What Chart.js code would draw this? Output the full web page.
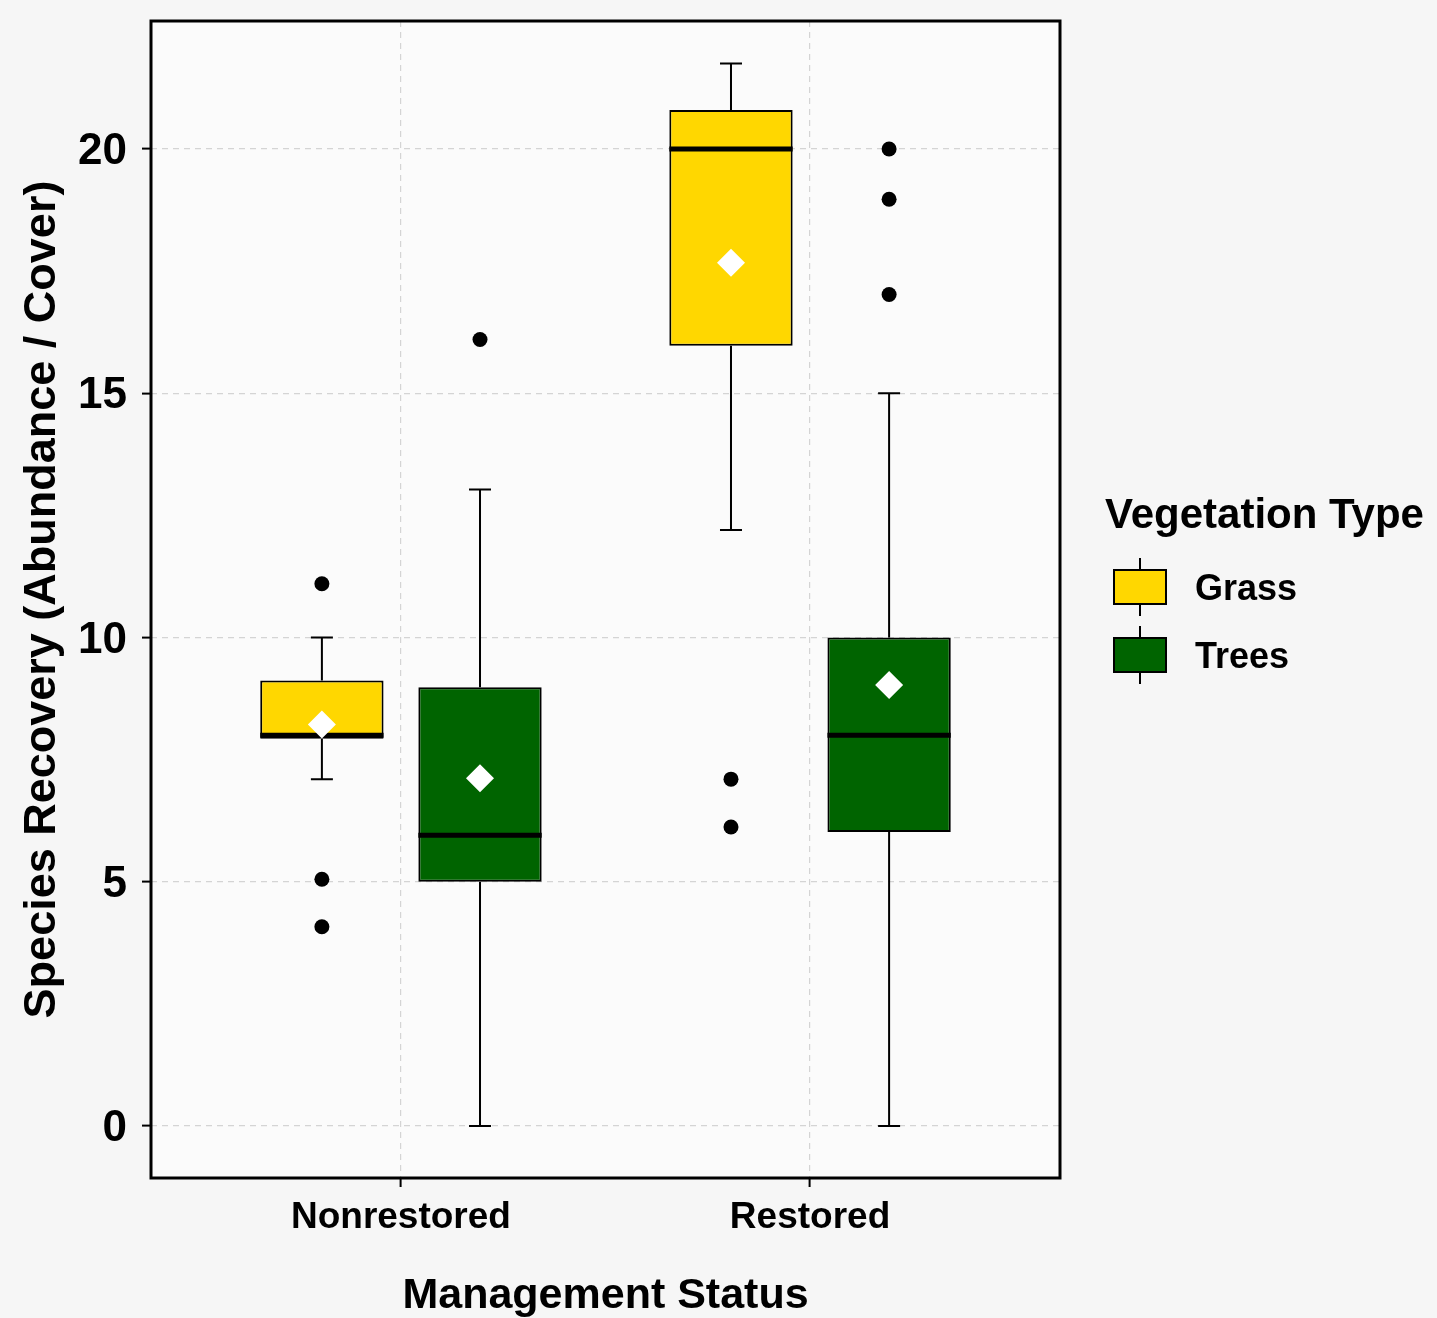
<!DOCTYPE html>
<html>
<head>
<meta charset="utf-8">
<title>Species Recovery by Management Status</title>
<script src="https://cdn.jsdelivr.net/npm/chart.js@4.4.1/dist/chart.umd.min.js"></script>
<style>
  html, body { margin: 0; padding: 0; background: #f6f6f6; }
  #wrap { width: 1437px; height: 1318px; }
</style>
</head>
<body>
<div id="wrap"><canvas id="boxChart" width="1437" height="1318"></canvas></div>
<script>
var categories = ['Nonrestored', 'Restored'];
var groups = ['Grass', 'Trees'];
var groupColors = ['#FFD700', '#006400'];

// box summaries, one entry per category
var grassMin = [7.1, 12.2];
var grassQ1 = [7.93, 15.97];
var grassMedian = [8.0, 20.0];
var grassQ3 = [9.12, 20.8];
var grassMax = [10.0, 21.75];
var grassMean = [8.22, 17.67];
var grassOutliers = [[11.1, 5.05, 4.08], [7.1, 6.12]];

var treesMin = [0, 0];
var treesQ1 = [5.0, 6.02];
var treesMedian = [5.95, 8.0];
var treesQ3 = [8.98, 10.0];
var treesMax = [13.03, 15.0];
var treesMean = [7.12, 9.03];
var treesOutliers = [[16.1], [20.0, 18.97, 17.02]];

var yTicks = [0, 5, 10, 15, 20];

var stats = [
  { min: grassMin, q1: grassQ1, med: grassMedian, q3: grassQ3, max: grassMax, mean: grassMean, out: grassOutliers },
  { min: treesMin, q1: treesQ1, med: treesMedian, q3: treesQ3, max: treesMax, mean: treesMean, out: treesOutliers }
];

var FONT = '"Liberation Sans", Arial, sans-serif';

function boxData(s) {
  return categories.map(function (c, i) { return { x: i, y: [s.q1[i], s.q3[i]] }; });
}

function noEdgePadding(s) {
  s.paddingTop = 0; s.paddingBottom = 0; s.paddingLeft = 0; s.paddingRight = 0;
}

// panel background + frame
var panelPlugin = {
  id: 'panel',
  beforeDraw: function (chart) {
    var a = chart.chartArea, ctx = chart.ctx;
    ctx.save();
    ctx.fillStyle = '#fbfbfb';
    ctx.fillRect(a.left, a.top, a.right - a.left, a.bottom - a.top);
    ctx.restore();
  },
  afterDraw: function (chart) {
    var a = chart.chartArea, ctx = chart.ctx;
    ctx.save();
    ctx.strokeStyle = '#000';
    ctx.lineWidth = 3;
    ctx.strokeRect(a.left, a.top, a.right - a.left, a.bottom - a.top);
    ctx.restore();
  }
};

// whiskers behind the boxes, median / mean / outliers on top
var boxPlugin = {
  id: 'boxExtras',
  beforeDatasetsDraw: function (chart) {
    var ctx = chart.ctx, y = chart.scales.y;
    ctx.save();
    ctx.strokeStyle = '#000';
    ctx.lineWidth = 2;
    stats.forEach(function (s, di) {
      chart.getDatasetMeta(di).data.forEach(function (el, j) {
        var x = el.x, cap = 11;
        ctx.beginPath();
        ctx.moveTo(x, y.getPixelForValue(s.q3[j]));
        ctx.lineTo(x, y.getPixelForValue(s.max[j]));
        ctx.moveTo(x - cap, y.getPixelForValue(s.max[j]));
        ctx.lineTo(x + cap, y.getPixelForValue(s.max[j]));
        ctx.moveTo(x, y.getPixelForValue(s.q1[j]));
        ctx.lineTo(x, y.getPixelForValue(s.min[j]));
        ctx.moveTo(x - cap, y.getPixelForValue(s.min[j]));
        ctx.lineTo(x + cap, y.getPixelForValue(s.min[j]));
        ctx.stroke();
      });
    });
    ctx.restore();
  },
  afterDatasetsDraw: function (chart) {
    var ctx = chart.ctx, y = chart.scales.y;
    ctx.save();
    stats.forEach(function (s, di) {
      chart.getDatasetMeta(di).data.forEach(function (el, j) {
        var x = el.x, hw = el.width / 2;
        var my = y.getPixelForValue(s.med[j]);
        ctx.strokeStyle = '#000';
        ctx.lineWidth = 5;
        ctx.beginPath();
        ctx.moveTo(x - hw, my);
        ctx.lineTo(x + hw, my);
        ctx.stroke();

        var ay = y.getPixelForValue(s.mean[j]), r = 14;
        ctx.fillStyle = '#fff';
        ctx.beginPath();
        ctx.moveTo(x, ay - r);
        ctx.lineTo(x + r, ay);
        ctx.lineTo(x, ay + r);
        ctx.lineTo(x - r, ay);
        ctx.closePath();
        ctx.fill();

        ctx.fillStyle = '#000';
        s.out[j].forEach(function (v) {
          ctx.beginPath();
          ctx.arc(x, y.getPixelForValue(v), 7.5, 0, Math.PI * 2);
          ctx.fill();
        });
      });
    });
    ctx.restore();
  }
};

var legendPlugin = {
  id: 'boxLegend',
  afterDraw: function (chart) {
    var ctx = chart.ctx, a = chart.chartArea;
    var left = a.right + 45;
    ctx.save();
    ctx.fillStyle = '#000';
    ctx.textBaseline = 'middle';
    ctx.textAlign = 'left';
    ctx.font = 'bold 42px ' + FONT;
    ctx.fillText('Vegetation Type', left, 516);
    groups.forEach(function (g, i) {
      var top = 570 + 68 * i, kx = left + 9, kw = 52, kh = 34, cx = kx + kw / 2;
      ctx.strokeStyle = '#000';
      ctx.lineWidth = 2;
      ctx.beginPath();
      ctx.moveTo(cx, top - 12);
      ctx.lineTo(cx, top + kh + 12);
      ctx.stroke();
      ctx.fillStyle = groupColors[i];
      ctx.fillRect(kx, top, kw, kh);
      ctx.strokeRect(kx, top, kw, kh);
      ctx.fillStyle = '#000';
      ctx.font = 'bold 36px ' + FONT;
      ctx.fillText(g, left + 90, top + kh / 2 + 3);
    });
    ctx.restore();
  }
};

var gridColor = '#d4d4d4';

new Chart(document.getElementById('boxChart'), {
  type: 'bar',
  data: {
    datasets: groups.map(function (g, i) {
      return {
        label: g,
        data: boxData(stats[i]),
        backgroundColor: groupColors[i],
        borderColor: '#000',
        borderWidth: 2,
        borderSkipped: false,
        categoryPercentage: 0.773,
        barPercentage: 0.78
      };
    })
  },
  options: {
    responsive: false,
    animation: false,
    layout: { padding: { top: 21, right: 377, left: 0, bottom: 0 } },
    plugins: { legend: { display: false }, tooltip: { enabled: false } },
    scales: {
      x: {
        type: 'linear',
        offset: false,
        min: -0.611,
        max: 1.611,
        afterBuildTicks: function (s) { s.ticks = categories.map(function (c, i) { return { value: i }; }); },
        afterFit: function (s) { s.height = 140; noEdgePadding(s); },
        ticks: {
          callback: function (v) { return categories[v]; },
          color: '#000',
          font: { family: FONT, size: 37, weight: 'bold' },
          padding: 9,
          autoSkip: false,
          maxRotation: 0
        },
        grid: { offset: false, color: gridColor, lineWidth: 1.2, tickColor: '#000', tickLength: 9, tickWidth: 2 },
        border: { display: false, dash: [6, 5] },
        title: {
          display: true,
          text: 'Management Status',
          color: '#000',
          font: { family: FONT, size: 43, weight: 'bold', lineHeight: 1.0 },
          padding: { top: 0, bottom: 0 }
        }
      },
      y: {
        min: -1.064,
        max: 22.62,
        afterBuildTicks: function (s) { s.ticks = yTicks.map(function (v) { return { value: v }; }); },
        afterFit: function (s) { s.width = 151; noEdgePadding(s); },
        ticks: {
          color: '#000',
          font: { family: FONT, size: 44, weight: 'bold' },
          padding: 15,
          labelOffset: 3
        },
        grid: { color: gridColor, lineWidth: 1.2, tickColor: '#000', tickLength: 9, tickWidth: 2 },
        border: { display: false, dash: [6, 5] },
        title: {
          display: true,
          text: 'Species Recovery (Abundance / Cover)',
          color: '#000',
          font: { family: FONT, size: 45, weight: 'bold' },
          padding: { top: 16, bottom: 0 }
        }
      }
    }
  },
  plugins: [panelPlugin, boxPlugin, legendPlugin]
});
</script>
</body>
</html>
